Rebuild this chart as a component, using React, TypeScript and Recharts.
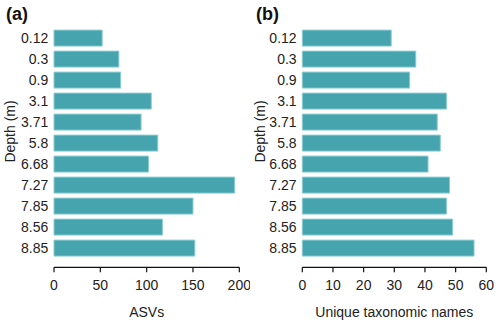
import { BarChart, Bar, XAxis, YAxis } from 'recharts';

const depths = ['0.12', '0.3', '0.9', '3.1', '3.71', '5.8', '6.68', '7.27', '7.85', '8.56', '8.85'];
const asvCounts = [52, 70, 72, 105, 94, 112, 102, 195, 150, 117, 152];
const uniqueNames = [29, 37, 35, 47, 44, 45, 41, 48, 47, 49, 56];
const asvTicks = [0, 50, 100, 150, 200];
const nameTicks = [0, 10, 20, 30, 40, 50, 60];

const FONT = '"Liberation Sans", Arial, Helvetica, sans-serif';
const TEXT = '#222';
const BAR_FILL = '#45a4ad';
const BAR_STROKE = '#8ccdd2';

interface PanelProps {
  tag: string;
  values: number[];
  ticks: number[];
  title: string;
  yAxisWidth: number;
  rightMargin: number;
}

function DepthLabel() {
  return (
    <text
      x={10}
      y={131.5}
      transform="rotate(-90 10 131.5)"
      textAnchor="middle"
      dominantBaseline="central"
      fontSize={14}
      fontFamily={FONT}
      fill={TEXT}
    >
      Depth (m)
    </text>
  );
}

function Panel({ tag, values, ticks, title, yAxisWidth, rightMargin }: PanelProps) {
  const data = depths.map((depth, i) => ({ depth, value: values[i] }));
  const max = ticks[ticks.length - 1];

  return (
    <div style={{ position: 'relative', width: 250, height: 322 }}>
      <BarChart
        width={250}
        height={322}
        data={data}
        layout="vertical"
        margin={{ top: 27.1, right: rightMargin, left: 0, bottom: 0 }}
        style={{ fontFamily: FONT }}
      >
        <XAxis
          type="number"
          domain={[0, max]}
          ticks={ticks}
          height={54.7}
          tick={{ fontSize: 14, fill: TEXT, fontFamily: FONT }}
          tickSize={5}
          tickMargin={8}
          axisLine={{ stroke: '#111', strokeWidth: 1.2 }}
          tickLine={{ stroke: '#111', strokeWidth: 1.2 }}
          label={{ value: title, position: 'insideBottom', offset: 5.5, fontSize: 14, fill: TEXT, fontFamily: FONT }}
        />
        <YAxis
          type="category"
          dataKey="depth"
          width={yAxisWidth}
          padding={{ top: 0, bottom: 9.2 }}
          tick={{ fontSize: 14, fill: TEXT, fontFamily: FONT }}
          tickSize={0}
          tickMargin={5.7}
          axisLine={false}
          tickLine={false}
          interval={0}
          label={{ content: () => <DepthLabel /> }}
        />
        <Bar
          dataKey="value"
          fill={BAR_FILL}
          stroke={BAR_STROKE}
          strokeWidth={1}
          barSize={16}
          isAnimationActive={false}
        />
      </BarChart>
      <div
        style={{
          position: 'absolute',
          left: 6,
          top: 4.8,
          fontFamily: FONT,
          fontWeight: 'bold',
          fontSize: 18,
          lineHeight: '18px',
          color: '#111',
        }}
      >
        {tag}
      </div>
    </div>
  );
}

export default function App() {
  return (
    <div style={{ position: 'absolute', left: 0, top: 0, width: 500, height: 322, display: 'flex', background: '#fff' }}>
      <Panel tag="(a)" values={asvCounts} ticks={asvTicks} title="ASVs" yAxisWidth={54} rightMargin={10.7} />
      <Panel tag="(b)" values={uniqueNames} ticks={nameTicks} title="Unique taxonomic names" yAxisWidth={52.3} rightMargin={13.7} />
    </div>
  );
}
